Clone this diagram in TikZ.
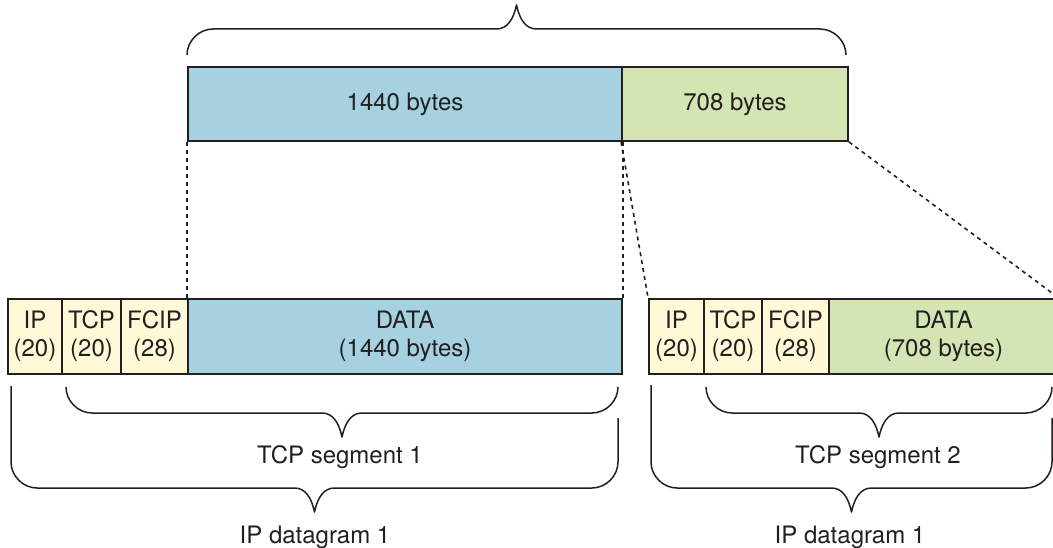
\documentclass[tikz,border=0pt]{standalone}
\usepackage{fontspec}
\setmainfont{TeX Gyre Heros}
\definecolor{ink}{HTML}{231F20}
\definecolor{bluefill}{HTML}{A6D1E0}
\definecolor{greenfill}{HTML}{D2E5B3}
\definecolor{yellowfill}{HTML}{FFF9D8}
\tikzset{
  cell/.style={draw=ink, line width=1.8pt, inner sep=0pt, minimum height=75pt, align=center, text=ink,
    font=\fontsize{24}{28}\selectfont},
  bigcell/.style={cell, minimum height=74pt},
  hdr/.style={cell, fill=yellowfill},
  lbl/.style={text=ink, font=\fontsize{24}{28}\selectfont, anchor=base, inner sep=0pt},
  brace/.style={draw=ink, line width=1.5pt, line join=round},
  guide/.style={draw=ink, line width=1.6pt, dash pattern=on 4pt off 4pt}
}
\newcommand\brc[6]{%
 \draw[brace] (#1,#3) -- (#1,{#5-#6*26}) .. controls (#1,{#5-#6*12}) and ({#1+12},#5) .. ({#1+26},#5)
 -- ({(#1+#2)/2-20},#5) .. controls ({(#1+#2)/2-9},#5) and ({(#1+#2)/2-3},{#5+#6*10}) .. ({(#1+#2)/2},{#5+#6*24})
 .. controls ({(#1+#2)/2+3},{#5+#6*10}) and ({(#1+#2)/2+9},#5) .. ({(#1+#2)/2+20},#5)
 -- ({#2-26},#5) .. controls ({#2-12},#5) and (#2,{#5-#6*12}) .. (#2,{#5-#6*26}) -- (#2,#4);}
\begin{document}
\begin{tikzpicture}[x=1pt,y=-1pt]
\useasboundingbox (0,0) rectangle (1053,548);
\clip (0,0) rectangle (1053,548);
% top bar
\node[bigcell, fill=bluefill, minimum width=434pt] (tblue) at (405,104) {1440 bytes};
\node[bigcell, fill=greenfill, minimum width=226pt] (tgreen) at (735,104) {708 bytes};
% left datagram
\node[hdr, minimum width=54pt] (lip) at (35,336.5) {IP\\(20)};
\node[hdr, minimum width=59pt] (ltcp) at (91.5,336.5) {TCP\\(20)};
\node[hdr, minimum width=67pt] (lfcip) at (154.5,336.5) {FCIP\\(28)};
\node[cell, fill=bluefill, minimum width=434pt] (ldata) at (405,336.5) {DATA\\(1440 bytes)};
% right datagram
\node[hdr, minimum width=55pt] (rip) at (676.5,336.5) {IP\\(20)};
\node[hdr, minimum width=58pt] (rtcp) at (733,336.5) {TCP\\(20)};
\node[hdr, minimum width=67pt] (rfcip) at (795.5,336.5) {FCIP\\(28)};
\node[cell, fill=greenfill, minimum width=229pt] (rdata) at (943.5,336.5) {DATA\\(708 bytes)};
% dashed guides
\draw[guide] (tblue.south west) -- (ldata.north west);
\draw[guide] (tblue.south east) -- (ldata.north east);
\draw[guide] (tgreen.south west) -- (rip.north west);
\draw[guide] (tgreen.south east) -- (rdata.north east);
% braces
\brc{187}{846}{55}{55}{29}{-1}
\brc{66}{618}{387}{387}{413}{1}
\brc{11}{618}{386}{418}{488}{1}
\brc{706}{1052}{387}{387}{413}{1}
\brc{651}{1052}{385}{418}{488}{1}
% labels
\node[lbl] (seg1) at (340,463) {TCP segment 1};
\node[lbl] (dg1) at (315,543) {IP datagram 1};
\node[lbl] (seg2) at (878,463) {TCP segment 2};
\node[lbl] (dg2) at (850,543) {IP datagram 1};
\end{tikzpicture}
\end{document}
